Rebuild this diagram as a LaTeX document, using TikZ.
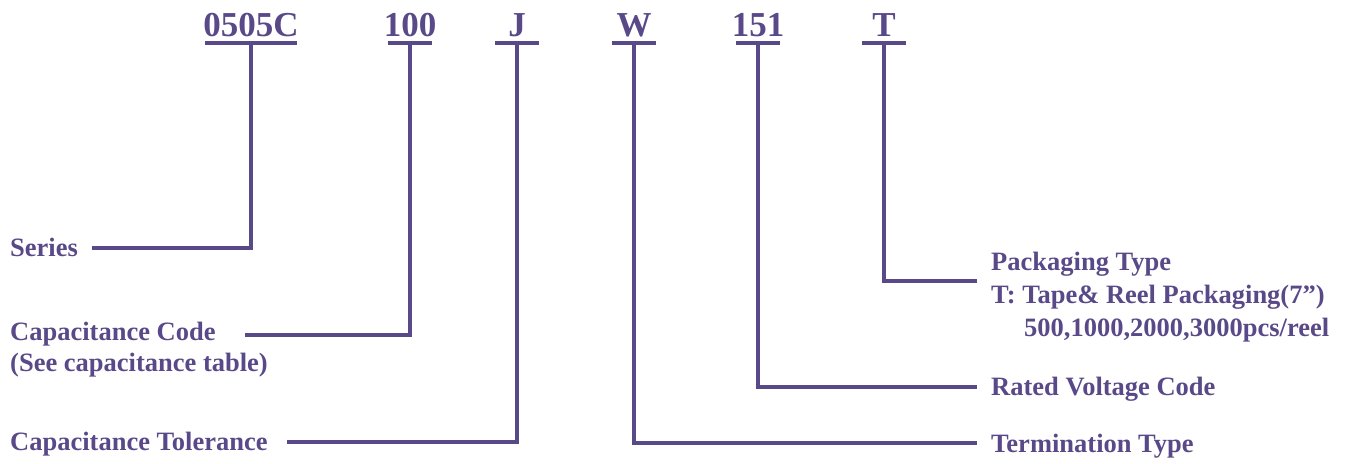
\documentclass[tikz,border=0pt]{standalone}
\usepackage{fontspec}
\setmainfont{Liberation Serif}
\definecolor{pc}{HTML}{5A4989}
\begin{document}
\begin{tikzpicture}[x=1pt,y=-1pt,
  code/.style={anchor=base, inner sep=0pt, text=pc, font=\fontsize{35}{35}\selectfont\bfseries},
  lab/.style={anchor=base west, inner sep=0pt, text=pc, font=\fontsize{26.5}{26.5}\selectfont\bfseries},
  wire/.style={draw=pc, line width=3.2pt}]
\useasboundingbox (0,0) rectangle (1348,463);
% codes
\node[code] (c1) at (251,36) {0505C};
\node[code] (c2) at (410,36) {100};
\node[code] (c3) at (517,36) {J};
\node[code] (c4) at (634,36) {W};
\node[code] (c5) at (758,36) {151};
\node[code] (c6) at (884,36) {T};
% underlines
\draw[wire] (205,43) -- (297,43);
\foreach \n in {c2,c3,c4,c5,c6}{
  \draw[wire] ([xshift=-22pt]\n.base |- 0,43) -- ([xshift=22pt]\n.base |- 0,43);
}
% left labels
\node[lab] (l1) at (10,256) {Series};
\node[lab] (l2) at (10,340) {Capacitance Code};
\node[lab] (l2b) at (10,371) {(See capacitance table)};
\node[lab] (l3) at (10,450) {Capacitance Tolerance};
% right labels
\node[lab] (r6) at (991,270) {Packaging Type};
\node[lab] (r6b) at (991,303) {T: Tape\& Reel Packaging(7”)};
\node[lab] (r6c) at (1024,336) {500,1000,2000,3000pcs/reel};
\node[lab] (r5) at (991,395) {Rated Voltage Code};
\node[lab] (r4) at (991,452) {Termination Type};
% connector end points
\coordinate (e1) at (92,248);
\coordinate (e2) at (245,335);
\coordinate (e3) at (287,442);
\coordinate (e6) at (977,281);
\coordinate (e5) at (977,387);
\coordinate (e4) at (977,443);
% connectors
\draw[wire] (c1.base |- 0,43) |- (e1);
\draw[wire] (c2.base |- 0,43) |- (e2);
\draw[wire] (c3.base |- 0,43) |- (e3);
\draw[wire] (c4.base |- 0,43) |- (e4);
\draw[wire] (c5.base |- 0,43) |- (e5);
\draw[wire] (c6.base |- 0,43) |- (e6);
\end{tikzpicture}
\end{document}
